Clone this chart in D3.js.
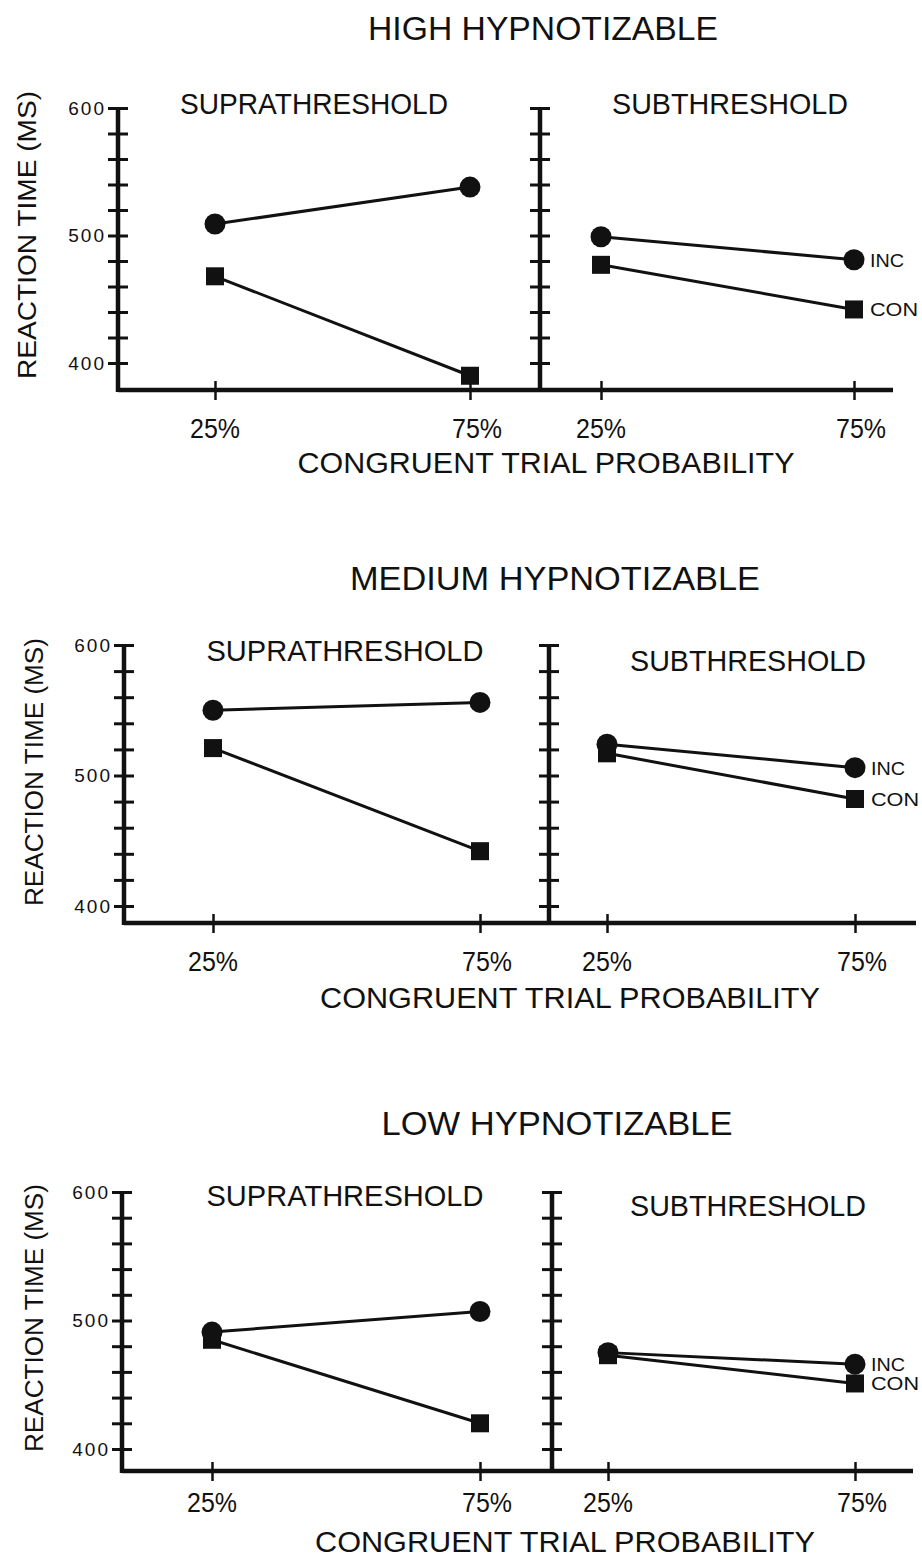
<!DOCTYPE html>
<html>
<head>
<meta charset="utf-8">
<script src="https://cdn.jsdelivr.net/npm/d3@7"></script>
<style>
  body { margin: 0; background: #fff; }
  text { font-family: "Liberation Sans", Arial, sans-serif; fill: #111; }
</style>
</head>
<body>
<div id="chart"></div>
<script>
// chart data
var groups = ['HIGH HYPNOTIZABLE', 'MEDIUM HYPNOTIZABLE', 'LOW HYPNOTIZABLE']
var conditions = ['SUPRATHRESHOLD', 'SUBTHRESHOLD']
var probabilities = ['25%', '75%']
var yTicks = [400, 420, 440, 460, 480, 500, 520, 540, 560, 580, 600]
var yLabels = [400, 500, 600]

// [suprathreshold, subthreshold] x [25%, 75%]
var incHigh = [[509, 538], [499, 481]]
var conHigh = [[468, 390], [477, 442]]
var incMedium = [[550, 556], [524, 506]]
var conMedium = [[521, 442], [517, 482]]
var incLow = [[491, 507], [475, 466]]
var conLow = [[485, 420], [473, 451]]

var incData = [incHigh, incMedium, incLow]
var conData = [conHigh, conMedium, conLow]

// where each of the three panels sits on the page
var layout = [
  { top: 108, base: 363, floor: 390, left: 118, mid: 540, end: 893,
    ticks: [[215, 470], [601, 854]], title: [543, 40, 350], sub: [[314, 114, 268], [730, 114, 236]],
    xlab: [546, 473, 497], ylab: [36, 235, 288], tickLab: 438 },
  { top: 645, base: 906, floor: 923, left: 124, mid: 549, end: 916,
    ticks: [[213, 480], [607, 855]], title: [555, 590, 410], sub: [[345, 661, 277], [748, 671, 236]],
    xlab: [570, 1008, 500], ylab: [43, 772, 268], tickLab: 971 },
  { top: 1192, base: 1449, floor: 1471, left: 122, mid: 552, end: 913,
    ticks: [[212, 480], [608, 855]], title: [557, 1135, 351], sub: [[345, 1206, 277], [748, 1216, 236]],
    xlab: [565, 1552, 500], ylab: [43, 1318, 268], tickLab: 1512 }
]

var svg = d3.select('#chart').append('svg')
  .attr('width', 922)
  .attr('height', 1562)

function fitText (g, x, y, w, size, str) {
  return g.append('text')
    .attr('x', x)
    .attr('y', y)
    .attr('text-anchor', 'middle')
    .attr('font-size', size)
    .attr('textLength', w)
    .attr('lengthAdjust', 'spacingAndGlyphs')
    .text(str)
}

groups.forEach(function (name, gi) {
  var L = layout[gi]
  var g = svg.append('g')

  fitText(g, L.title[0], L.title[1], L.title[2], 34, name)

  var y = d3.scaleLinear().domain([400, 600]).range([L.base, L.top])

  // y axis label
  g.append('text')
    .attr('transform', 'translate(' + L.ylab[0] + ',' + L.ylab[1] + ') rotate(-90)')
    .attr('text-anchor', 'middle')
    .attr('font-size', 25)
    .attr('textLength', L.ylab[2])
    .attr('lengthAdjust', 'spacingAndGlyphs')
    .text('REACTION TIME (MS)')

  // x axis label
  fitText(g, L.xlab[0], L.xlab[1], L.xlab[2], 29, 'CONGRUENT TRIAL PROBABILITY')

  conditions.forEach(function (cond, ci) {
    var axisX = ci === 0 ? L.left : L.mid
    var xEnd = ci === 0 ? L.mid : L.end
    var x = d3.scalePoint().domain(probabilities).range(L.ticks[ci])

    fitText(g, L.sub[ci][0], L.sub[ci][1], L.sub[ci][2], 29, cond)

    // y axis: ticks cross the line on both sides
    var ya = g.append('g').attr('transform', 'translate(' + axisX + ',0)')
    ya.call(d3.axisLeft(y).tickValues(yTicks).tickSize(10).tickFormat(''))
    ya.append('g').call(d3.axisRight(y).tickValues(yTicks).tickSize(10).tickFormat(''))
    ya.selectAll('.domain').remove()
    ya.selectAll('line').attr('stroke', '#111').attr('stroke-width', 3)
    ya.append('line')
      .attr('y1', y(600) - 1).attr('y2', L.floor + 2)
      .attr('stroke', '#111').attr('stroke-width', 4.5)

    if (ci === 0) {
      ya.selectAll('.lab').data(yLabels).enter().append('text')
        .attr('class', 'lab')
        .attr('x', -12)
        .attr('y', function (d) { return y(d) })
        .attr('dy', '0.36em')
        .attr('text-anchor', 'end')
        .attr('font-size', 19)
        .attr('letter-spacing', 2)
        .text(function (d) { return d })
    }

    // x axis
    var xa = g.append('g').attr('transform', 'translate(0,' + L.floor + ')')
    xa.call(d3.axisBottom(x).tickSize(10).tickFormat(''))
    xa.append('g').call(d3.axisTop(x).tickSize(9).tickFormat(''))
    xa.selectAll('.domain').remove()
    xa.selectAll('line').attr('stroke', '#111').attr('stroke-width', 2.5)
    xa.append('line')
      .attr('x1', axisX).attr('x2', xEnd)
      .attr('stroke', '#111').attr('stroke-width', 4.5)

    g.selectAll(null).data(probabilities).enter().append('text')
      .attr('x', function (d, i) { return x(d) + (i === 1 ? 7 : 0) })
      .attr('y', L.tickLab)
      .attr('text-anchor', 'middle')
      .attr('font-size', 27)
      .attr('textLength', 50)
      .attr('lengthAdjust', 'spacingAndGlyphs')
      .text(function (d) { return d })

    var line = d3.line()
      .x(function (d, i) { return x(probabilities[i]) })
      .y(function (d) { return y(d) })

    var inc = incData[gi][ci]
    var con = conData[gi][ci]

    g.append('path').datum(inc).attr('d', line)
      .attr('fill', 'none').attr('stroke', '#111').attr('stroke-width', 3)
    g.append('path').datum(con).attr('d', line)
      .attr('fill', 'none').attr('stroke', '#111').attr('stroke-width', 3)

    g.selectAll(null).data(con).enter().append('rect')
      .attr('x', function (d, i) { return x(probabilities[i]) - 9 })
      .attr('y', function (d) { return y(d) - 9 })
      .attr('width', 18)
      .attr('height', 18)
      .attr('fill', '#111')

    g.selectAll(null).data(inc).enter().append('circle')
      .attr('cx', function (d, i) { return x(probabilities[i]) })
      .attr('cy', function (d) { return y(d) })
      .attr('r', 10.5)
      .attr('fill', '#111')

    // series names next to the subthreshold end points
    if (ci === 1) {
      var lx = x(probabilities[1]) + 16
      g.append('text').attr('x', lx).attr('y', y(inc[1])).attr('dy', '0.36em')
        .attr('font-size', 19).attr('textLength', 34).attr('lengthAdjust', 'spacingAndGlyphs')
        .text('INC')
      g.append('text').attr('x', lx).attr('y', y(con[1])).attr('dy', '0.36em')
        .attr('font-size', 19).attr('textLength', 48).attr('lengthAdjust', 'spacingAndGlyphs')
        .text('CON')
    }
  })
})
</script>
</body>
</html>
